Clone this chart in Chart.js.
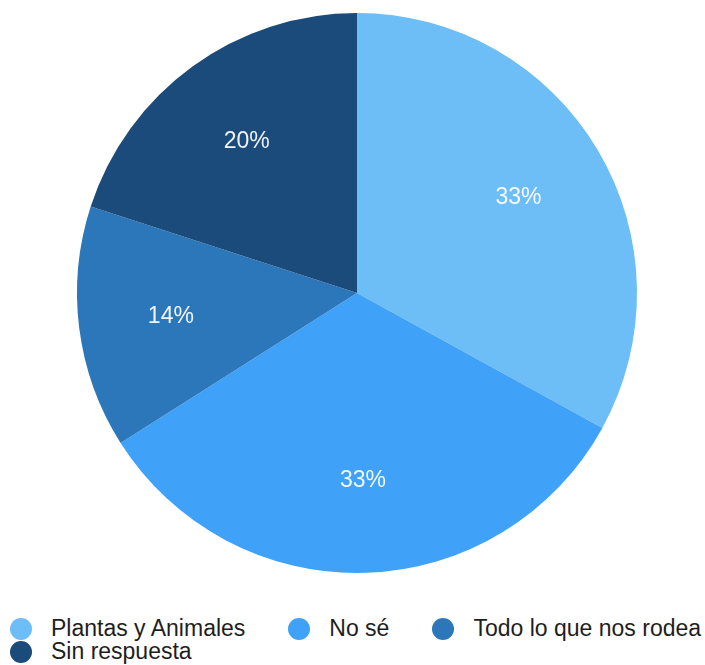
<!DOCTYPE html>
<html>
<head>
<meta charset="utf-8">
<script src="https://cdn.jsdelivr.net/npm/chart.js@4/dist/chart.umd.min.js"></script>
<style>
  html, body { margin: 0; padding: 0; background: #fff; }
  #wrap { position: relative; width: 705px; height: 665px; overflow: hidden; }
  #chartBox { position: absolute; left: 0; top: 0; width: 705px; height: 600px; }
  #legend {
    position: absolute; left: 10px; top: 617px; width: 700px;
    display: flex; flex-wrap: wrap; column-gap: 43px;
    font-family: "Liberation Sans", Arial, Helvetica, sans-serif;
    font-size: 23px; line-height: 23px; color: #1e1e1e;
  }
  #legend .item { display: flex; align-items: center; height: 23px; white-space: nowrap; }
  #legend .dot { width: 22px; height: 22px; border-radius: 50%; margin-right: 19px; flex: none; }
</style>
</head>
<body>
<div id="wrap">
  <div id="chartBox"><canvas id="pie"></canvas></div>
  <div id="legend"></div>
</div>
<script>
'use strict';

const categories = ['Plantas y Animales', 'No sé', 'Todo lo que nos rodea', 'Sin respuesta'];
const values = [33, 33, 14, 20];
const colors = ['#6dbdf7', '#3fa1f7', '#2c77ba', '#1b4b7b'];

// percentage labels inside each slice
const sliceLabels = {
    id: 'sliceLabels',
    afterDatasetsDraw(chart) {
        const ctx = chart.ctx;
        const meta = chart.getDatasetMeta(0);
        const total = values.reduce((a, b) => a + b, 0);
        ctx.save();
        ctx.font = '23px "Liberation Sans", Arial, sans-serif';
        ctx.fillStyle = 'rgba(255,255,255,0.93)';
        ctx.textAlign = 'center';
        ctx.textBaseline = 'middle';
        meta.data.forEach((arc, i) => {
            const p = arc.getProps(['x', 'y', 'startAngle', 'endAngle', 'outerRadius'], true);
            const mid = (p.startAngle + p.endAngle) / 2;
            const r = p.outerRadius * 0.67;
            const pct = Math.round(values[i] / total * 100) + '%';
            ctx.fillText(pct, p.x + Math.cos(mid) * r, p.y + Math.sin(mid) * r);
        });
        ctx.restore();
    }
};

const chart = new Chart(document.getElementById('pie').getContext('2d'), {
    type: 'pie',
    data: {
        labels: categories,
        datasets: [{
            data: values,
            backgroundColor: colors,
            borderWidth: 0
        }]
    },
    options: {
        responsive: true,
        maintainAspectRatio: false,
        animation: false,
        layout: { padding: { left: 77, right: 68, top: 13, bottom: 27 } },
        plugins: {
            legend: { display: false },
            tooltip: { enabled: false }
        }
    },
    plugins: [sliceLabels]
});

// legend below the chart
const legendEl = document.getElementById('legend');
categories.forEach((name, i) => {
    const item = document.createElement('div');
    item.className = 'item';
    const dot = document.createElement('span');
    dot.className = 'dot';
    dot.style.background = colors[i];
    const txt = document.createElement('span');
    txt.textContent = name;
    item.appendChild(dot);
    item.appendChild(txt);
    legendEl.appendChild(item);
});
</script>
</body>
</html>
